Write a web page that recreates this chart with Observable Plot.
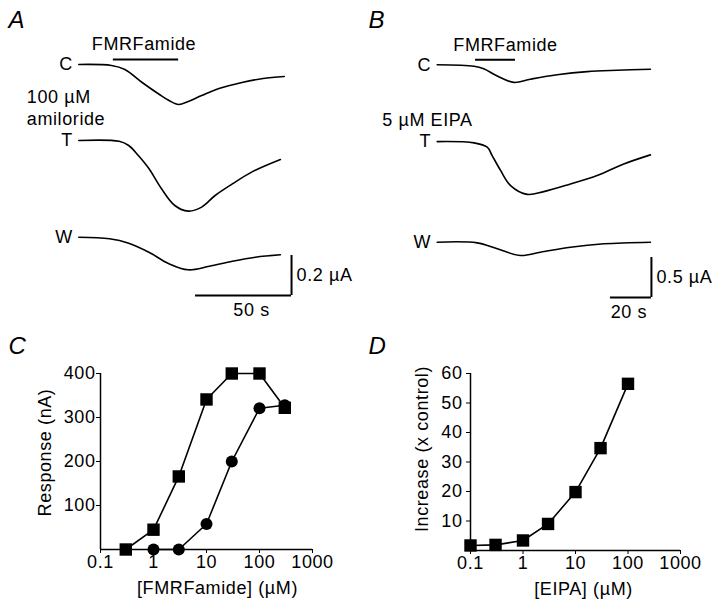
<!DOCTYPE html>
<html><head><meta charset="utf-8">
<script src="https://cdn.jsdelivr.net/npm/d3@7"></script>
<script src="https://cdn.jsdelivr.net/npm/@observablehq/plot@0.6"></script>
<style>
body{margin:0;background:#fff;}
#fig{position:relative;width:720px;height:614px;overflow:hidden;background:#fff;}
.panel{position:absolute;}
</style></head><body><div id="fig"></div>
<script>
// ---------- DATA ----------
const traceNames = ["C", "T", "W"];
const drugName = "FMRFamide";

// Panel A: time (s) from trace start, current (µA) relative to each trace's baseline
const aTimeC = [0, 17, 24, 33, 42, 47, 52, 57, 64, 73, 85, 96, 107];
const aCurC  = [0, -0.005, -0.025, -0.09, -0.15, -0.18, -0.2, -0.185, -0.155, -0.12, -0.09, -0.07, -0.06];
const aTimeT = [0, 21, 26, 31, 36.5, 43, 50, 57, 64, 71, 80, 90, 105];
const aCurT  = [0, -0.004, -0.025, -0.075, -0.14, -0.24, -0.325, -0.353, -0.333, -0.275, -0.217, -0.158, -0.095];
const aTimeW = [0, 16, 26, 36.5, 47, 57, 68, 80, 92, 105];
const aCurW  = [0, -0.008, -0.03, -0.075, -0.133, -0.163, -0.145, -0.12, -0.1, -0.088];
const aDrugWindow = [18, 52];
const aCondition = "100 µM\namiloride";
const aScaleTime = 50, aScaleCur = 0.2;
const aScaleTimeLabel = "50 s", aScaleCurLabel = "0.2 µA";

// Panel B
const bTimeC = [0, 18, 22.7, 29.3, 37.4, 45.5, 58.5, 73.2, 87.8, 104];
const bCurC  = [0, -0.018, -0.05, -0.14, -0.22, -0.18, -0.125, -0.085, -0.068, -0.055];
const bTimeT = [0, 18, 24.4, 26.8, 30.9, 35.8, 43.9, 52, 65, 78, 91, 104];
const bCurT  = [0, -0.016, -0.07, -0.175, -0.36, -0.55, -0.66, -0.625, -0.53, -0.425, -0.28, -0.166];
const bTimeW = [0, 19.5, 29.3, 40.6, 50.4, 65, 81.3, 104];
const bCurW  = [0, -0.008, -0.083, -0.166, -0.125, -0.063, -0.02, 0];
const bDrugWindow = [18.7, 38.2];
const bCondition = "5 µM EIPA";
const bScaleTime = 20, bScaleCur = 0.5;
const bScaleTimeLabel = "20 s", bScaleCurLabel = "0.5 µA";

// Panel C: FMRFamide dose-response
const cConcSq  = [0.3, 1, 3, 10, 30, 100, 300];
const cRespSq  = [0, 45, 166, 341, 400, 400, 322];
const cConcCi  = [1, 3, 10, 30, 100, 300];
const cRespCi  = [0, 0, 58, 200, 321, 328];
const cXTicks  = [0.1, 1, 10, 100, 1000];
const cYTicks  = [100, 200, 300, 400];
const cXLabel  = "[FMRFamide] (µM)";
const cYLabel  = "Response (nA)";

// Panel D: EIPA
const dConc   = [0.1, 0.3, 1, 3, 10, 30, 100];
const dIncr   = [1.7, 1.9, 3.4, 9, 19.8, 34.7, 56.5];
const dXTicks = [0.1, 1, 10, 100, 1000];
const dYTicks = [10, 20, 30, 40, 50, 60];
const dXLabel = "[EIPA] (µM)";
const dYLabel = "Increase (x control)";

// ---------- LAYOUT ----------
const FONT = "'Liberation Sans', Arial, Helvetica, sans-serif";
const style = {fontFamily: FONT, fontSize: "18px", letterSpacing: "0.6px", color: "#000", background: "#fff", overflow: "visible"};
const fig = document.getElementById("fig");
function place(el, left, top) {
  const d = document.createElement("div");
  d.className = "panel"; d.style.left = left + "px"; d.style.top = top + "px";
  d.appendChild(el); fig.appendChild(d);
}
function rows(times, curs, offsets) {
  return traceNames.flatMap((n, i) => times[i].map((t, j) => ({trace: n, t, v: curs[i][j] + offsets[i]})));
}

function tracePanel(o) {
  const W = 360, H = 320;
  const data = rows(o.times, o.curs, o.offsets);
  const mid = (o.drug[0] + o.drug[1]) / 2;
  return Plot.plot({
    width: W, height: H, margin: 0, style,
    x: {domain: [-o.x0 / o.sx, (W - o.x0) / o.sx], range: [0, W], axis: null},
    y: {domain: [(o.y0 - H) / o.sy, o.y0 / o.sy], range: [H, 0], axis: null},
    marks: [
      Plot.line(data, {x: "t", y: "v", z: "trace", curve: "catmull-rom", stroke: "#000", strokeWidth: 1.6}),
      Plot.ruleY([0], {x1: o.drug[0], x2: o.drug[1], dy: -5, stroke: "#000", strokeWidth: 2}),
      Plot.text([drugName], {x: mid, y: 0, dy: -20, dx: o.drugDx, textAnchor: "middle", fill: "#000"}),
      Plot.text(traceNames, {x: 0, y: (d, i) => o.offsets[i], dx: -6, textAnchor: "end", fill: "#000"}),
      Plot.text([o.cond], {x: 0, y: o.offsets[1], dx: o.condDx, dy: o.condDy, textAnchor: "start", lineHeight: 1.22, fill: "#000"}),
      Plot.ruleY([o.sbY], {x1: o.sbX - o.sbT, x2: o.sbX, stroke: "#000", strokeWidth: 2}),
      Plot.ruleX([o.sbX], {y1: o.sbY, y2: o.sbY + o.sbC, stroke: "#000", strokeWidth: 2}),
      Plot.text([o.sbCLabel], {x: o.sbX, y: o.sbY + o.sbC / 2, dx: 5, textAnchor: "start", fill: "#000"}),
      Plot.text([o.sbTLabel], {x: o.sbX - o.sbT / 2, y: o.sbY, dx: o.sbTDx, dy: 15, textAnchor: "middle", fill: "#000"}),
      Plot.text([o.letter], {frameAnchor: "top-left", dx: 8, dy: 10, fontSize: 24, fontStyle: "italic", textAnchor: "start", fill: "#000"})
    ]
  });
}

place(tracePanel({
  times: [aTimeC, aTimeT, aTimeW], curs: [aCurC, aCurT, aCurW],
  x0: 78.3, sx: 1.92, y0: 64, sy: 200, offsets: [0, -0.38, -0.8635],
  drug: aDrugWindow, drugDx: -2, cond: aCondition, condDx: -52, condDy: -34,
  sbX: 110.8, sbY: -1.155, sbT: aScaleTime, sbC: aScaleCur, sbTLabel: aScaleTimeLabel, sbCLabel: aScaleCurLabel, sbTDx: 8,
  letter: "A"
}), 0, 0);

place(tracePanel({
  times: [bTimeC, bTimeT, bTimeW], curs: [bCurC, bCurT, bCurW],
  x0: 76.7, sx: 2.05, y0: 64.3, sy: 80, offsets: [0, -0.96, -2.2175],
  drug: bDrugWindow, drugDx: 10, cond: bCondition, condDx: -55, condDy: -23,
  sbX: 104.5, sbY: -2.909, sbT: bScaleTime, sbC: bScaleCur, sbTLabel: bScaleTimeLabel, sbCLabel: bScaleCurLabel, sbTDx: -2,
  letter: "B"
}), 360, 0);

function dosePanel(o) {
  return Plot.plot({
    width: 360, height: 294, style,
    marginLeft: o.ml, marginRight: o.mr, marginTop: o.mt, marginBottom: o.mb,
    x: {type: "log", domain: [0.1, 1000]},
    y: {domain: o.ydom},
    marks: [
      Plot.ruleY([0], {stroke: "#000", strokeWidth: 1.5}),
      Plot.ruleX([0.1], {stroke: "#000", strokeWidth: 1.5}),
      Plot.axisX({ticks: o.xt, tickFormat: d => String(d), tickSize: 4, tickPadding: 2, fill: "#000", stroke: "#000", label: null}),
      Plot.axisY({ticks: o.yt, tickFormat: d => String(d), tickSize: 4, tickPadding: o.tp, fill: "#000", stroke: "#000", label: null}),
      ...o.series.flatMap(s => [
        Plot.line(s.x.map((x, i) => ({x, y: s.y[i]})), {x: "x", y: "y", stroke: "#000", strokeWidth: 1.6}),
        Plot.dot(s.x.map((x, i) => ({x, y: s.y[i]})), {x: "x", y: "y", symbol: s.sym, r: s.r, fill: "#000", stroke: "none"})
      ]),
      Plot.text([o.ylabel], {frameAnchor: "left", rotate: -90, dx: o.ytdx, dy: o.ytdy, textAnchor: "middle", fill: "#000"}),
      Plot.text([o.xlabel], {frameAnchor: "bottom", dx: o.xtdx, dy: 44, textAnchor: "middle", fill: "#000"}),
      Plot.text([o.letter], {frameAnchor: "top-left", dx: o.ldx, dy: -37, fontSize: 24, fontStyle: "italic", textAnchor: "start", fill: "#000"})
    ]
  });
}

place(dosePanel({
  ml: 100, mr: 48, mt: 53, mb: 65, ydom: [0, 400], xt: cXTicks, yt: cYTicks, tp: 1,
  series: [{x: cConcSq, y: cRespSq, sym: "square", r: 7}, {x: cConcCi, y: cRespCi, sym: "circle", r: 6}],
  ylabel: cYLabel, xlabel: cXLabel, ytdx: -55, ytdy: -9, xtdx: 11, letter: "C", ldx: -92
}), 0, 320);

place(dosePanel({
  ml: 110, mr: 40, mt: 53, mb: 64, ydom: [0, 60], xt: dXTicks, yt: dYTicks, tp: 4,
  series: [{x: dConc, y: dIncr, sym: "square", r: 7}],
  ylabel: dYLabel, xlabel: dXLabel, ytdx: -48, ytdy: -13, xtdx: 8, letter: "D", ldx: -102
}), 360, 320);
</script></body></html>
